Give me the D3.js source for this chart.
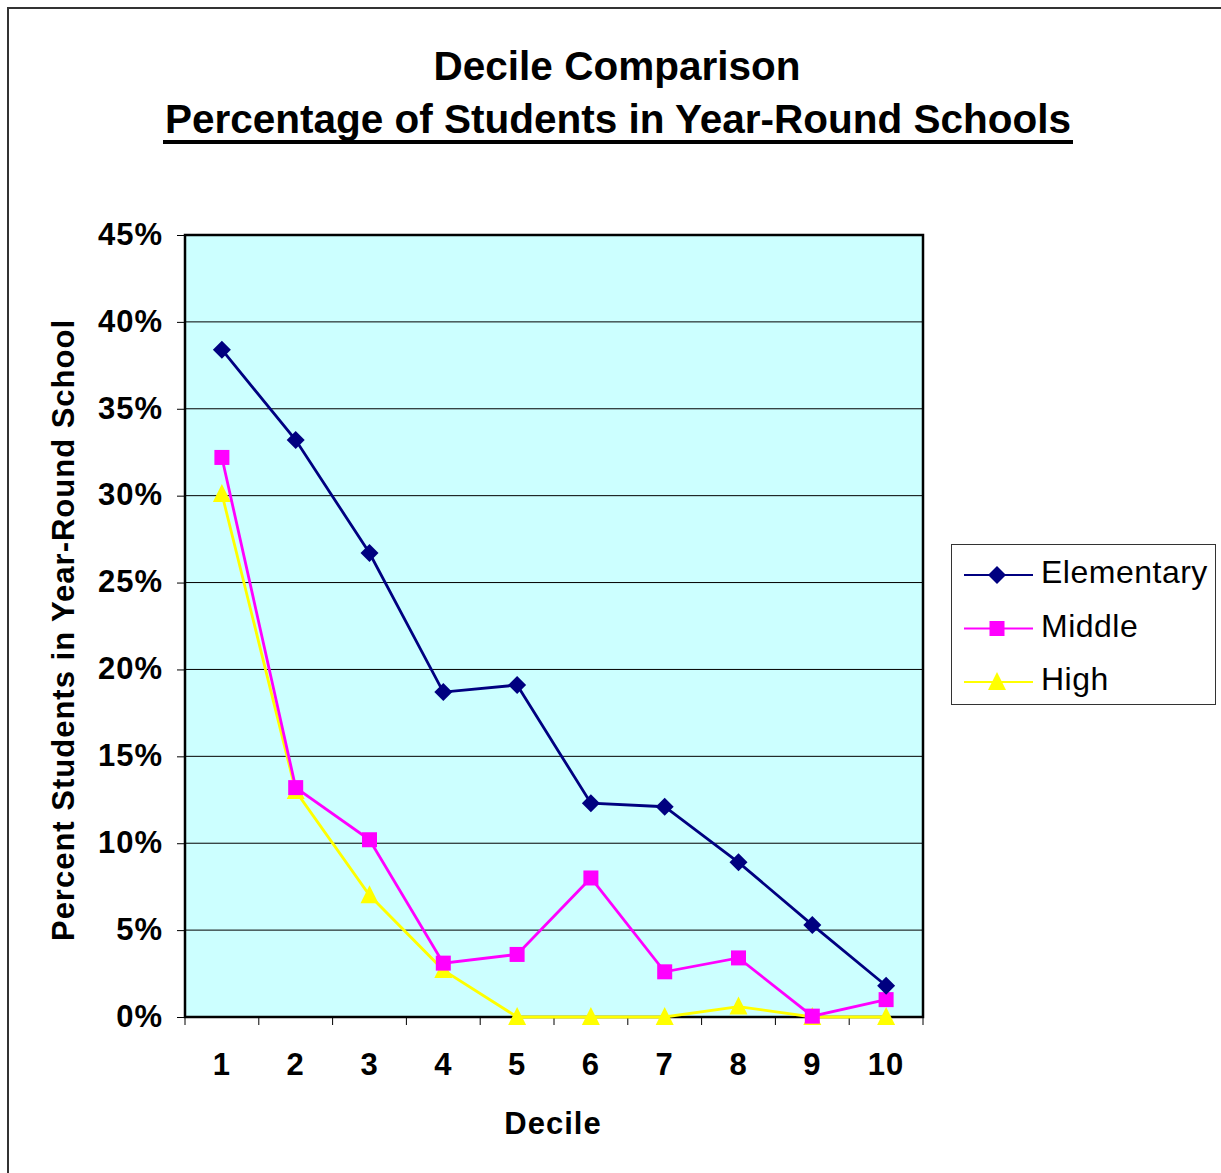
<!DOCTYPE html>
<html><head><meta charset="utf-8">
<script src="https://cdn.jsdelivr.net/npm/d3@7"></script>
<style>body{margin:0;background:#fff}svg{display:block;font-family:"Liberation Sans",Arial,sans-serif}</style>
</head><body>
<svg id="c" width="1221" height="1173"></svg>
<script>
const deciles = ["1","2","3","4","5","6","7","8","9","10"];
const elementary = [38.4, 33.2, 26.7, 18.7, 19.1, 12.3, 12.1, 8.9, 5.3, 1.8];
const middle = [32.2, 13.2, 10.2, 3.1, 3.6, 8.0, 2.6, 3.4, 0.05, 1.0];
const high = [30.1, 13.0, 7.0, 2.7, 0, 0, 0, 0.6, 0, 0];
const yTicks = [0,5,10,15,20,25,30,35,40,45];
const seriesNames = ["Elementary","Middle","High"];
const seriesColors = ["#000080","#FF00FF","#FFFF00"];
const seriesMarkers = ["diamond","square","triangle"];

const svg = d3.select("#c");
const L=185,R=923,T=235,B=1017;
const x = d3.scaleBand().domain(deciles).range([L,R]);
const y = d3.scaleLinear().domain([0,45]).range([B,T]);

// outer frame
svg.append("path").attr("d","M8,1173 L8,8 L1221,8").attr("fill","none").attr("stroke","#333").attr("stroke-width",2);

// titles
svg.append("text").attr("x",617).attr("y",80).attr("text-anchor","middle").attr("font-weight","bold").attr("font-size",40.5).text("Decile Comparison");
svg.append("text").attr("x",618).attr("y",133).attr("text-anchor","middle").attr("font-weight","bold").attr("font-size",40.5).text("Percentage of Students in Year-Round Schools");
svg.append("rect").attr("x",163).attr("y",140).attr("width",910).attr("height",4).attr("fill","#000");

// plot bg
svg.append("rect").attr("x",L).attr("y",T).attr("width",R-L).attr("height",B-T).attr("fill","#CCFFFF");

// gridlines
svg.append("g").selectAll("line").data(yTicks.filter(d=>d>0&&d<45)).join("line")
  .attr("x1",L).attr("x2",R).attr("y1",d=>y(d)).attr("y2",d=>y(d)).attr("stroke","#000").attr("stroke-width",1);

// y axis
const ya = svg.append("g").attr("transform",`translate(${L},0)`)
  .call(d3.axisLeft(y).tickValues(yTicks).tickFormat(d=>d+"%").tickSize(8).tickPadding(14));
ya.select(".domain").remove();
ya.selectAll("line").attr("stroke","#000");
ya.selectAll("text").attr("font-size",31).attr("letter-spacing",1).attr("font-weight","bold").attr("fill","#000").attr("font-family","Liberation Sans, Arial, sans-serif").attr("dy","0.3em");

// x axis ticks at band boundaries
const bounds = deciles.map(d=>x(d)).concat([R]);
svg.append("g").selectAll("line").data(bounds).join("line")
  .attr("x1",d=>d).attr("x2",d=>d).attr("y1",B).attr("y2",B+8).attr("stroke","#000").attr("stroke-width",1);
svg.append("g").selectAll("text").data(deciles).join("text")
  .attr("x",d=>x(d)+x.bandwidth()/2).attr("y",1075).attr("text-anchor","middle")
  .attr("font-size",31).attr("letter-spacing",1).attr("font-weight","bold").text(d=>d);

// plot border
svg.append("rect").attr("x",L).attr("y",T).attr("width",R-L).attr("height",B-T).attr("fill","none").attr("stroke","#000").attr("stroke-width",2.5);

// axis titles
svg.append("text").attr("x",553).attr("y",1134).attr("text-anchor","middle").attr("font-weight","bold").attr("font-size",31).attr("letter-spacing",1).text("Decile");
svg.append("text").attr("transform","translate(74,630) rotate(-90)").attr("text-anchor","middle").attr("font-weight","bold").attr("font-size",31).attr("letter-spacing",1).text("Percent Students in Year-Round School");

function marker(g, type, color){
  if(type==="diamond") g.append("path").attr("d","M0,-9 L9,0 L0,9 L-9,0 Z").attr("fill",color);
  else if(type==="square") g.append("rect").attr("x",-7.5).attr("y",-7.5).attr("width",15).attr("height",15).attr("fill",color);
  else g.append("path").attr("d","M0,-10 L9,8 L-9,8 Z").attr("fill",color);
}

const data = [elementary, middle, high];
const line = d3.line().x((d,i)=>x(deciles[i])+x.bandwidth()/2).y(d=>y(d));
[2,1,0].forEach(s=>{
  svg.append("path").datum(data[s]).attr("d",line).attr("fill","none").attr("stroke",seriesColors[s]).attr("stroke-width",2.8);
  data[s].forEach((v,i)=>{
    const g = svg.append("g").attr("transform",`translate(${x(deciles[i])+x.bandwidth()/2},${y(v)})`);
    marker(g, seriesMarkers[s], seriesColors[s]);
  });
});

// legend
const lg = svg.append("g");
lg.append("rect").attr("x",951.5).attr("y",544.5).attr("width",264).attr("height",160).attr("fill","#fff").attr("stroke","#333").attr("stroke-width",1);
seriesNames.forEach((n,i)=>{
  const cy = 575 + i*53.5;
  lg.append("line").attr("x1",964).attr("x2",1033).attr("y1",cy).attr("y2",cy).attr("stroke",seriesColors[i]).attr("stroke-width",2);
  const g = lg.append("g").attr("transform",`translate(997,${cy})`);
  marker(g, seriesMarkers[i], seriesColors[i]);
  lg.append("text").attr("x",1041).attr("y",cy+8).attr("font-size",32).attr("letter-spacing",0.5).text(n);
});
</script>
</body></html>
